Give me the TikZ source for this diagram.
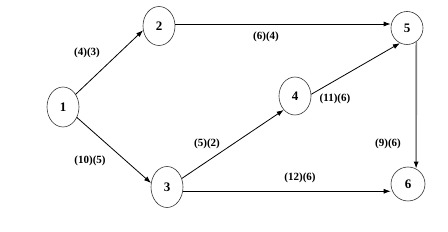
\documentclass[tikz,border=0pt]{standalone}
\usepackage{fontspec}
\setmainfont{Liberation Serif}
\usepackage{tikz}
\usetikzlibrary{shapes.geometric,arrows.meta}

\begin{document}
\begin{tikzpicture}[
  x=1pt, y=-1pt,
  every node/.style={font=\fontsize{11}{12}\selectfont\bfseries},
  vertex/.style={ellipse, draw=black!80, line width=0.6pt, inner sep=0pt,
                 font=\fontsize{13}{14}\selectfont\bfseries,
                 minimum width=32pt, minimum height=40pt},
  round/.style ={vertex, minimum width=32pt, minimum height=33pt},
  lbl/.style   ={inner sep=0pt},
  arr/.style   ={-{Latex[length=7pt,width=5pt]}, line width=0.8pt},
  grayarr/.style={-{Latex[length=7pt,width=5pt,color=black]}, line width=1.6pt, draw=black!50}
]
  \fill[white] (0,0) rectangle (448,232);
  \useasboundingbox (0,0) rectangle (448,232);

  \node[vertex]                        (n1) at (63,107)  {1};
  \node[vertex, minimum height=39pt]   (n2) at (159,26)  {2};
  \node[vertex, minimum height=41pt]   (n3) at (167,187) {3};
  \node[vertex, minimum height=38pt]   (n4) at (295,96)  {4};
  \node[round]                         (n5) at (407,28)  {5};
  \node[round, minimum width=34pt, minimum height=34pt] (n6) at (408,184) {6};

  \node[lbl] (l12) at (87,53)   {(4)(3)};
  \node[lbl] (l25) at (266,37)  {(6)(4)};
  \node[lbl] (l45) at (335,99)  {(11)(6)};
  \node[lbl] (l13) at (90,161)  {(10)(5)};
  \node[lbl] (l34) at (207,144) {(5)(2)};
  \node[lbl] (l36) at (300,178) {(12)(6)};
  \node[lbl] (l56) at (388,144) {(9)(6)};

  \draw[arr] (n1.45)  -- (n2.195);
  \draw[arr] (n2.7)   -- (n2.7 -| n5.west);
  \draw[arr] (n1.-37) -- (n3.166);
  \draw[arr] (n3.30)  -- (n4.231);
  \draw[arr] (n3.-15) -- (n3.-15 -| n6.west);
  \draw[arr] (n4.6)   -- (n5.245);
  \draw[grayarr] (n5.-56) -- (n6.62);
\end{tikzpicture}
\end{document}
